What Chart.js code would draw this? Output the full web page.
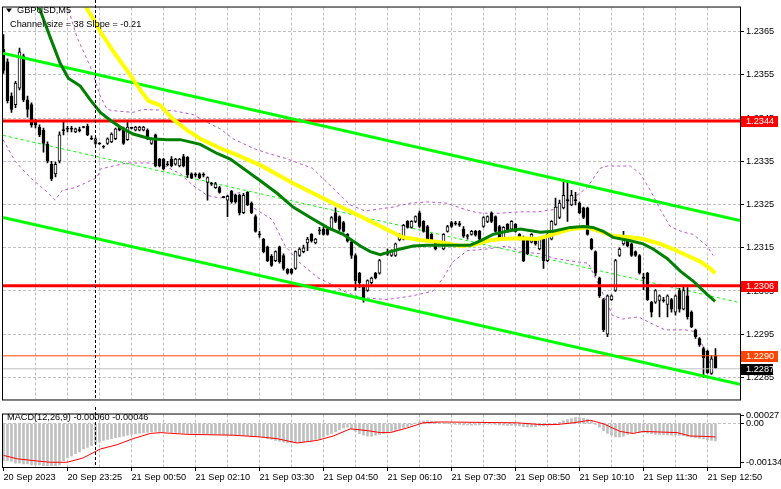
<!DOCTYPE html>
<html><head><meta charset="utf-8">
<script src="https://cdn.jsdelivr.net/npm/chart.js@4.4.0/dist/chart.umd.min.js"></script>
<style>
html,body{margin:0;padding:0;background:#fff;width:781px;height:489px;overflow:hidden}
#a{position:absolute;left:0;top:0}
#b{position:absolute;left:0;top:407px}
</style></head><body>
<canvas id="a" width="781" height="407"></canvas>
<canvas id="b" width="781" height="82"></canvas>
<script>
// ---------------- DATA ----------------
const symbolTitle = 'GBPUSD,M5';
const channelText = 'Channel size = 38 Slope = -0.21';
const timeLabels = ['20 Sep 2023','20 Sep 23:25','21 Sep 00:50','21 Sep 02:10','21 Sep 03:30','21 Sep 04:50','21 Sep 06:10','21 Sep 07:30','21 Sep 08:50','21 Sep 10:10','21 Sep 11:30','21 Sep 12:50'];
const priceTicks = [1.2285,1.2295,1.2305,1.2315,1.2325,1.2335,1.2345,1.2355,1.2365];
const macdTicks = [0.00027, 0, -0.00134];
const daySeparatorBar = 23;

const openP = [1.23609,1.23580,1.23501,1.23481,1.23519,1.23594,1.23492,1.23481,1.23445,1.23429,
1.23422,1.23389,1.23343,1.23321,1.23350,1.23422,1.23425,1.23425,1.23418,1.23422,
1.23429,1.23431,1.23402,1.23391,1.23391,1.23384,1.23391,1.23395,1.23402,1.23429,
1.23425,1.23400,1.23427,1.23422,1.23422,1.23422,1.23422,1.23391,1.23411,1.23355,
1.23355,1.23343,1.23355,1.23343,1.23339,1.23361,1.23359,1.23321,1.23319,1.23321,
1.23319,1.23301,1.23298,1.23289,1.23289,1.23267,1.23260,1.23281,1.23271,1.23271,
1.23231,1.23278,1.23253,1.23222,1.23181,1.23170,1.23152,1.23130,1.23120,1.23152,
1.23132,1.23100,1.23100,1.23102,1.23132,1.23141,1.23161,1.23181,1.23161,1.23190,
1.23193,1.23193,1.23193,1.23231,1.23222,1.23208,1.23181,1.23163,1.23132,1.23091,
1.23062,1.23051,1.23069,1.23091,1.23091,1.23136,1.23136,1.23132,1.23132,1.23168,
1.23170,1.23211,1.23197,1.23211,1.23231,1.23211,1.23199,1.23181,1.23163,1.23159,
1.23147,1.23188,1.23208,1.23206,1.23206,1.23193,1.23177,1.23181,1.23188,1.23188,
1.23199,1.23211,1.23231,1.23222,1.23199,1.23170,1.23204,1.23193,1.23204,1.23181,
1.23174,1.23170,1.23163,1.23170,1.23147,1.23170,1.23120,1.23170,1.23204,1.23220,
1.23242,1.23260,1.23249,1.23260,1.23253,1.23242,1.23242,1.23170,1.23141,1.23080,
1.23030,1.22950,1.23030,1.23051,1.23132,1.23159,1.23166,1.23159,1.23141,1.23132,
1.23080,1.23091,1.23024,1.23024,1.23028,1.23028,1.23019,1.23030,1.23001,1.23051,
1.23008,1.23039,1.23001,1.22960,1.22940,1.22917,1.22911,1.22859,1.22900];
const highP = [1.23643,1.23587,1.23508,1.23535,1.23612,1.23598,1.23501,1.23485,1.23447,1.23434,
1.23427,1.23395,1.23350,1.23348,1.23418,1.23440,1.23431,1.23431,1.23427,1.23429,
1.23431,1.23436,1.23409,1.23404,1.23393,1.23386,1.23404,1.23416,1.23427,1.23431,
1.23429,1.23440,1.23429,1.23431,1.23431,1.23431,1.23425,1.23404,1.23413,1.23357,
1.23357,1.23350,1.23361,1.23357,1.23357,1.23366,1.23361,1.23323,1.23323,1.23323,
1.23323,1.23314,1.23301,1.23301,1.23292,1.23269,1.23271,1.23283,1.23274,1.23274,
1.23276,1.23280,1.23256,1.23226,1.23188,1.23172,1.23154,1.23134,1.23143,1.23154,
1.23136,1.23102,1.23102,1.23143,1.23150,1.23156,1.23174,1.23183,1.23172,1.23197,
1.23197,1.23195,1.23222,1.23242,1.23224,1.23211,1.23183,1.23166,1.23136,1.23093,
1.23064,1.23076,1.23082,1.23093,1.23123,1.23138,1.23147,1.23145,1.23161,1.23183,
1.23204,1.23213,1.23213,1.23224,1.23235,1.23213,1.23202,1.23183,1.23166,1.23161,
1.23183,1.23202,1.23211,1.23211,1.23211,1.23199,1.23181,1.23190,1.23190,1.23190,
1.23222,1.23224,1.23233,1.23224,1.23202,1.23199,1.23206,1.23213,1.23206,1.23183,
1.23177,1.23172,1.23183,1.23172,1.23172,1.23172,1.23183,1.23213,1.23265,1.23260,
1.23301,1.23301,1.23283,1.23278,1.23256,1.23244,1.23244,1.23172,1.23143,1.23082,
1.23033,1.23041,1.23041,1.23123,1.23150,1.23188,1.23168,1.23161,1.23143,1.23134,
1.23091,1.23093,1.23026,1.23053,1.23041,1.23035,1.23041,1.23033,1.23041,1.23056,
1.23060,1.23058,1.23004,1.22962,1.22942,1.22920,1.22913,1.22900,1.22917];
const lowP = [1.23553,1.23485,1.23463,1.23474,1.23515,1.23488,1.23452,1.23429,1.23427,1.23407,
1.23371,1.23346,1.23305,1.23314,1.23346,1.23411,1.23418,1.23418,1.23416,1.23418,
1.23427,1.23409,1.23400,1.23389,1.23389,1.23380,1.23389,1.23393,1.23400,1.23420,
1.23389,1.23398,1.23425,1.23420,1.23420,1.23420,1.23400,1.23389,1.23337,1.23337,
1.23330,1.23339,1.23337,1.23341,1.23337,1.23337,1.23312,1.23310,1.23314,1.23310,
1.23314,1.23260,1.23294,1.23287,1.23276,1.23265,1.23222,1.23253,1.23253,1.23226,
1.23229,1.23247,1.23229,1.23186,1.23174,1.23138,1.23118,1.23107,1.23118,1.23114,
1.23098,1.23089,1.23089,1.23100,1.23130,1.23138,1.23143,1.23163,1.23159,1.23181,
1.23179,1.23179,1.23190,1.23208,1.23190,1.23186,1.23163,1.23125,1.23051,1.23058,
1.23024,1.23049,1.23066,1.23078,1.23089,1.23134,1.23132,1.23130,1.23130,1.23166,
1.23168,1.23195,1.23195,1.23208,1.23197,1.23186,1.23168,1.23166,1.23145,1.23156,
1.23145,1.23186,1.23197,1.23202,1.23199,1.23174,1.23170,1.23179,1.23177,1.23168,
1.23197,1.23208,1.23208,1.23186,1.23168,1.23168,1.23186,1.23190,1.23186,1.23168,
1.23118,1.23134,1.23161,1.23156,1.23145,1.23102,1.23118,1.23168,1.23202,1.23217,
1.23240,1.23211,1.23247,1.23249,1.23229,1.23217,1.23179,1.23145,1.23085,1.23035,
1.22956,1.22944,1.23028,1.23049,1.23130,1.23156,1.23152,1.23130,1.23130,1.23089,
1.23053,1.23028,1.22990,1.23021,1.22990,1.23024,1.22990,1.23001,1.22994,1.23001,
1.23006,1.22985,1.22965,1.22940,1.22922,1.22850,1.22859,1.22857,1.22870];
const closeP = [1.23560,1.23490,1.23470,1.23531,1.23603,1.23492,1.23470,1.23434,1.23434,1.23411,
1.23391,1.23350,1.23310,1.23343,1.23411,1.23421,1.23424,1.23424,1.23425,1.23421,
1.23428,1.23411,1.23401,1.23402,1.23390,1.23383,1.23402,1.23413,1.23425,1.23422,
1.23391,1.23429,1.23426,1.23429,1.23429,1.23429,1.23402,1.23402,1.23339,1.23339,
1.23332,1.23342,1.23339,1.23355,1.23355,1.23339,1.23319,1.23312,1.23318,1.23312,
1.23318,1.23312,1.23297,1.23298,1.23278,1.23266,1.23269,1.23256,1.23256,1.23231,
1.23271,1.23249,1.23231,1.23188,1.23180,1.23141,1.23120,1.23109,1.23141,1.23118,
1.23102,1.23091,1.23091,1.23141,1.23147,1.23150,1.23170,1.23166,1.23170,1.23189,
1.23181,1.23181,1.23220,1.23211,1.23193,1.23188,1.23166,1.23132,1.23074,1.23069,
1.23030,1.23074,1.23080,1.23080,1.23120,1.23135,1.23135,1.23143,1.23159,1.23181,
1.23202,1.23197,1.23211,1.23222,1.23199,1.23188,1.23170,1.23168,1.23147,1.23158,
1.23181,1.23199,1.23199,1.23205,1.23202,1.23177,1.23176,1.23188,1.23179,1.23170,
1.23220,1.23222,1.23211,1.23188,1.23170,1.23197,1.23188,1.23211,1.23188,1.23170,
1.23120,1.23136,1.23181,1.23159,1.23170,1.23120,1.23181,1.23211,1.23244,1.23253,
1.23271,1.23259,1.23271,1.23259,1.23231,1.23220,1.23181,1.23147,1.23091,1.23039,
1.22960,1.23039,1.23039,1.23120,1.23147,1.23170,1.23154,1.23132,1.23132,1.23091,
1.23079,1.23030,1.23001,1.23051,1.23039,1.23027,1.23039,1.23008,1.23039,1.23008,
1.23051,1.22990,1.22967,1.22944,1.22926,1.22895,1.22861,1.22893,1.22872];

// moving averages (bar index, price)
const maGreenX = [8.7,11.7,14.2,16.2,19.2,21.7,24.2,26.7,29.2,32.4,36.7,40.9,44.2,49.2,53.4,56.7,64.2,68.4,72.4,76.7,80.9,84.9,89.2,91.7,94.2,96.7,99.2,102.4,105.9,109.2,114.2,116.7,119.2,122.4,125.9,129.2,134.2,137.4,141.7,144.9,147.4,149.9,152.4,156.7,159.9,162.4,165.9,169.2,172.4,175.9,177.9];
const maGreenY = [1.23711,1.23636,1.23576,1.23542,1.23524,1.23492,1.23463,1.23445,1.23429,1.23413,1.23402,1.23400,1.23400,1.23389,1.23368,1.23355,1.23305,1.23276,1.23244,1.23220,1.23197,1.23181,1.23154,1.23141,1.23134,1.23141,1.23147,1.23154,1.23156,1.23156,1.23156,1.23156,1.23166,1.23181,1.23188,1.23193,1.23186,1.23188,1.23197,1.23199,1.23197,1.23188,1.23174,1.23166,1.23159,1.23147,1.23125,1.23096,1.23073,1.23042,1.23026];
const maYellowX = [20.4,24.2,27.4,30.9,34.2,36.2,39.2,42.4,45.9,49.2,54.2,57.4,64.2,72.4,80.9,87.4,92.4,96.7,99.9,104.2,109.2,114.2,117.4,120.9,124.2,129.2,133.4,137.4,141.7,145.9,149.2,152.4,156.7,159.9,164.2,167.4,170.9,174.2,176.7,177.9];
const maYellowY = [1.23711,1.23650,1.23605,1.23560,1.23515,1.23490,1.23479,1.23447,1.23422,1.23402,1.23380,1.23368,1.23341,1.23299,1.23260,1.23231,1.23208,1.23188,1.23174,1.23168,1.23163,1.23154,1.23156,1.23166,1.23170,1.23172,1.23170,1.23181,1.23193,1.23197,1.23188,1.23177,1.23174,1.23170,1.23159,1.23147,1.23132,1.23118,1.23102,1.23091];
// envelope bands (dashed violet)
const bandUpX = [14.7,15.9,18.4,21.7,24.2,25.9,27.4,32.4,34.9,42.4,47.4,50.9,54.2,57.4,62.4,66.2,70.4,77.2,82.9,86.7,90.4,94.2,97.4,101.7,105.9,110.9,114.2,118.4,122.4,129.2,133.4,137.4,141.7,145.9,149.2,150.9,156.7,159.2,161.7,164.2,166.7,169.9,172.4,175.9,177.4];
const bandUpY = [1.23722,1.23711,1.23636,1.23569,1.23501,1.23470,1.23467,1.23463,1.23470,1.23467,1.23458,1.23440,1.23425,1.23402,1.23380,1.23368,1.23357,1.23334,1.23283,1.23249,1.23235,1.23240,1.23244,1.23253,1.23256,1.23253,1.23242,1.23231,1.23229,1.23233,1.23233,1.23238,1.23260,1.23289,1.23334,1.23339,1.23339,1.23321,1.23283,1.23238,1.23199,1.23186,1.23181,1.23154,1.23132];
const bandLoX = [-0.1,2.9,6.7,10.4,12.9,14.7,17.9,21.7,23.4,24.2,27.4,30.9,36.7,40.4,44.2,47.4,50.9,54.2,59.2,62.2,67.2,70.4,74.2,78.7,81.2,84.9,89.2,95.9,102.4,107.4,109.9,112.4,115.9,120.9,125.9,129.2,134.2,137.9,142.9,146.2,149.2,152.2,154.7,158.7,162.2,165.4,170.4,172.9,174.9,177.4];
const bandLoY = [1.23400,1.23350,1.23312,1.23283,1.23260,1.23283,1.23289,1.23305,1.23312,1.23332,1.23339,1.23346,1.23346,1.23339,1.23321,1.23294,1.23271,1.23265,1.23278,1.23244,1.23215,1.23154,1.23114,1.23080,1.23069,1.23050,1.23035,1.23030,1.23039,1.23050,1.23080,1.23118,1.23143,1.23147,1.23154,1.23141,1.23136,1.23125,1.23118,1.23114,1.23057,1.22994,1.22985,1.22990,1.22974,1.22960,1.22960,1.22956,1.22922,1.22861];
// regression channel (ends at chart edges)
const channelX = [-0.125, 184.125];
const channelUpper = [1.23600, 1.23213];
const channelMiddle = [1.23410, 1.23023];
const channelLower = [1.23220, 1.22834];
// horizontal levels
const resistanceLevel = 1.23443;
const supportLevel = 1.23062;
const orangeLevel = 1.2290;
const bidLevel = 1.2287;

// MACD (12,26,9)
const macdHist = [-0.00128,-0.00128,-0.00131,-0.00137,-0.00137,-0.00140,-0.00140,-0.00143,-0.00143,-0.00143,
-0.00146,-0.00146,-0.00146,-0.00146,-0.00143,-0.00128,-0.00119,-0.00113,-0.00104,-0.00098,
-0.00088,-0.00082,-0.00076,-0.00070,-0.00064,-0.00058,-0.00055,-0.00052,-0.00049,-0.00046,
-0.00043,-0.00040,-0.00037,-0.00035,-0.00033,-0.00031,-0.00030,-0.00028,-0.00027,-0.00027,
-0.00027,-0.00028,-0.00030,-0.00030,-0.00031,-0.00033,-0.00034,-0.00034,-0.00034,-0.00034,
-0.00035,-0.00036,-0.00037,-0.00037,-0.00037,-0.00038,-0.00038,-0.00040,-0.00040,-0.00040,
-0.00041,-0.00042,-0.00043,-0.00044,-0.00046,-0.00049,-0.00052,-0.00055,-0.00058,-0.00061,
-0.00064,-0.00067,-0.00067,-0.00067,-0.00066,-0.00064,-0.00061,-0.00058,-0.00055,-0.00052,
-0.00046,-0.00040,-0.00034,-0.00028,-0.00021,-0.00015,-0.00012,-0.00018,-0.00027,-0.00035,
-0.00040,-0.00043,-0.00043,-0.00040,-0.00037,-0.00034,-0.00031,-0.00027,-0.00024,-0.00020,
-0.00015,-0.00010,-0.00005,0.00002,0.00006,0.00009,0.00010,0.00009,0.00006,0.00004,
0.00002,0.00000,-0.00002,-0.00003,-0.00003,-0.00004,-0.00004,-0.00005,-0.00004,-0.00004,
-0.00003,-0.00002,-0.00002,-0.00003,-0.00004,-0.00005,-0.00006,-0.00006,-0.00006,-0.00008,
-0.00010,-0.00011,-0.00011,-0.00010,-0.00008,-0.00008,-0.00007,-0.00004,0.00000,0.00005,
0.00010,0.00014,0.00018,0.00021,0.00021,0.00019,0.00015,0.00008,-0.00003,-0.00012,
-0.00024,-0.00034,-0.00040,-0.00046,-0.00046,-0.00043,-0.00037,-0.00032,-0.00030,-0.00030,
-0.00031,-0.00033,-0.00035,-0.00037,-0.00038,-0.00038,-0.00039,-0.00040,-0.00040,-0.00041,
-0.00042,-0.00044,-0.00046,-0.00049,-0.00051,-0.00053,-0.00056,-0.00058,-0.00060];
const signalX = [0,3.4,7.4,11.7,15.9,19.9,24.2,28.4,32.4,36.7,39.2,45.9,57.4,64.2,68.4,73.4,78.4,82.4,86.7,90.9,94.2,96.7,100.9,104.9,109.2,128.4,134.2,138.4,142.4,146.7,149.9,154.2,157.4,159.9,168.4,171.7,174.9,178];
const signalY = [-0.00110,-0.00122,-0.00128,-0.00134,-0.00134,-0.00119,-0.00088,-0.00073,-0.00052,-0.00034,-0.00031,-0.00037,-0.00040,-0.00046,-0.00052,-0.00067,-0.00058,-0.00043,-0.00018,-0.00024,-0.00031,-0.00031,-0.00015,0.00003,0.00006,0.00003,-0.00003,-0.00003,0.00003,0.00012,0.00000,-0.00027,-0.00034,-0.00027,-0.00031,-0.00043,-0.00044,-0.00046];

// ---------------- CHART ----------------
const X_MIN = -0.125, X_MAX = 184.125;
const gridBars = []; for (let v = 0; v <= 176; v += 8) gridBars.push(v);
const FONT = "'Liberation Sans', Arial, sans-serif";
Chart.defaults.font.family = FONT;
Chart.defaults.font.size = 9.2;
Chart.defaults.color = '#000';
Chart.defaults.animation = false;
Chart.defaults.responsive = false;
Chart.defaults.plugins.legend.display = false;
Chart.defaults.plugins.tooltip.enabled = false;

const pts = (xs, ys) => xs.map((x, k) => ({x, y: ys[k]}));
const line = (data, color, width, order, dash) => ({type:'line', data, borderColor: color, borderWidth: width,
  pointRadius: 0, fill: false, tension: 0, order, borderDash: dash || [], borderCapStyle: 'butt'});
const idx = openP.map((_, i) => i);
const flat = v => channelX.map(() => v);

const frame = {id:'frame', afterDraw(c) {
  const {ctx, chartArea: a} = c; ctx.save(); ctx.strokeStyle = '#000'; ctx.lineWidth = 1;
  ctx.strokeRect(a.left - 0.5, a.top - 0.5, a.right - a.left + 1, a.bottom - a.top + 1); ctx.restore();
}};
const separator = {id:'sep', afterDatasetsDraw(c) {
  const {ctx, chartArea: a} = c; const x = c.scales.x.getPixelForValue(daySeparatorBar);
  ctx.save(); ctx.strokeStyle = '#000'; ctx.lineWidth = 1; ctx.setLineDash([3, 2]);
  ctx.beginPath(); ctx.moveTo(x, 0); ctx.lineTo(x, a.bottom); ctx.stroke(); ctx.restore();
}};
const tags = [
  {v: resistanceLevel, bg: '#ff0000', fg: '#ffffff', w: 37},
  {v: supportLevel, bg: '#ff0000', fg: '#ffffff', w: 37},
  {v: orangeLevel, bg: '#ff4500', fg: '#ffffff', w: 37},
  {v: bidLevel, bg: '#000000', fg: '#ffffff', w: 32}
];
const overlayA = {id:'overlayA', afterDraw(c) {
  const {ctx} = c; const ys = c.scales.y;
  ctx.save();
  ctx.font = '9.2px ' + FONT; ctx.textBaseline = 'middle'; ctx.textAlign = 'left';
  tags.forEach(t => {
    const y = Math.round(ys.getPixelForValue(t.v));
    ctx.fillStyle = t.bg; ctx.fillRect(741, y - 5, t.w, 11);
    ctx.fillStyle = t.fg; ctx.fillText(t.v.toFixed(4), 746, y + 0.5);
  });
  ctx.fillStyle = '#000';
  ctx.beginPath(); ctx.moveTo(6, 8.5); ctx.lineTo(12, 8.5); ctx.lineTo(9, 12.5); ctx.closePath(); ctx.fill();
  ctx.fillText(symbolTitle, 17, 10.5);
  ctx.fillText(channelText, 10, 24.5);
  ctx.restore();
}};
const overlayB = {id:'overlayB', afterDraw(c) {
  const {ctx} = c; ctx.save(); ctx.font = '9.2px ' + FONT; ctx.textBaseline = 'middle'; ctx.fillStyle = '#000';
  ctx.fillText('MACD(12,26,9) ' + macdHist[macdHist.length - 1].toFixed(5) + ' ' + signalY[signalY.length - 1].toFixed(5), 7, 10.5);
  ctx.restore();
}};

new Chart(document.getElementById('a'), {
  type: 'line',
  data: { datasets: [
    line(pts(maGreenX, maGreenY), '#008000', 3, 2),
    line(pts(maYellowX, maYellowY), '#ffff00', 4, 3),
    line(pts(channelX, channelUpper), '#00ff00', 3, 4),
    line(pts(channelX, channelLower), '#00ff00', 3, 4),
    line(pts(channelX, flat(resistanceLevel)), '#ff0000', 3, 5),
    line(pts(channelX, flat(supportLevel)), '#ff0000', 3, 5),
    line(pts(channelX, flat(orangeLevel)), '#ff4500', 1, 6),
    line(pts(channelX, flat(bidLevel)), '#c0c0c0', 1, 7),
    {type:'bar', data: idx.map(i => ({x: i, y: [openP[i], closeP[i]]})), order: 10, grouped: false,
      barThickness: 3, minBarLength: 1, borderSkipped: false, borderWidth: 1, borderColor: '#000',
      backgroundColor: idx.map(i => closeP[i] > openP[i] ? '#ffffff' : '#000000')},
    {type:'bar', data: idx.map(i => ({x: i, y: [lowP[i], highP[i]]})), order: 11, grouped: false,
      barThickness: 1, minBarLength: 1, borderWidth: 0, backgroundColor: '#000'},
    line(pts(channelX, channelMiddle), '#00ff00', 1, 20, [3, 3]),
    line(pts(bandUpX, bandUpY), '#ba55d3', 1, 21, [3, 3]),
    line(pts(bandLoX, bandLoY), '#ba55d3', 1, 21, [3, 3])
  ]},
  options: {
    layout: {padding: {top: 2, left: 3, right: 0, bottom: 2}},
    scales: {
      x: {type: 'linear', min: X_MIN, max: X_MAX, offset: false,
        afterBuildTicks: s => { s.ticks = gridBars.filter(v => v > 0).map(v => ({value: v})); },
        afterFit: s => { s.height = 0; },
        ticks: {display: false},
        grid: {color: '#c0c0c0', drawTicks: false, offset: false},
        border: {display: false, dash: [3, 2]}},
      y: {position: 'right', min: 1.22799, max: 1.237056,
        afterBuildTicks: s => { s.ticks = priceTicks.map(v => ({value: v})); },
        afterFit: s => { s.width = 41; },
        ticks: {callback: v => Number(v).toFixed(4), padding: 2, autoSkip: false, color: '#000'},
        grid: {color: '#c0c0c0', tickLength: 4, tickColor: '#000'},
        border: {display: false, dash: [3, 2]}}
    }
  },
  plugins: [frame, separator, overlayA]
});

new Chart(document.getElementById('b'), {
  type: 'line',
  data: { datasets: [
    line(pts(signalX, signalY), '#ff0000', 1, 1),
    {type:'bar', data: idx.map(i => ({x: i, y: macdHist[i]})), order: 2, grouped: false,
      barThickness: 2, borderWidth: 0, backgroundColor: '#c0c0c0'}
  ]},
  options: {
    layout: {padding: {top: 1, left: 3, right: 0, bottom: 0}},
    scales: {
      x: {type: 'linear', min: X_MIN, max: X_MAX, offset: false,
        afterBuildTicks: s => { s.ticks = gridBars.map(v => ({value: v})); },
        afterFit: s => { s.height = 22; },
        ticks: {autoSkip: false, maxRotation: 0, align: 'start', padding: 1,
          callback: v => (v % 16 === 0 ? timeLabels[v / 16] : '')},
        grid: {color: c => (c.tick && c.tick.value === 0 ? 'rgba(0,0,0,0)' : '#c0c0c0'), tickLength: 4,
          tickColor: c => (c.tick && c.tick.value % 16 === 0 ? '#000' : 'rgba(0,0,0,0)'), offset: false},
        border: {display: false, dash: [3, 2]}},
      y: {position: 'right', min: -0.001504, max: 0.000318,
        afterBuildTicks: s => { s.ticks = macdTicks.map(v => ({value: v})); },
        afterFit: s => { s.width = 41; },
        ticks: {callback: v => (v === 0 ? '0.00' : Number(v).toFixed(5)), padding: 2, autoSkip: false},
        grid: {color: c => (c.tick && c.tick.value === 0 ? '#c0c0c0' : 'rgba(0,0,0,0)'), tickLength: 4, tickColor: '#000'},
        border: {display: false, dash: [3, 2]}}
    }
  },
  plugins: [frame, separator, overlayB]
});
</script>
</body></html>
